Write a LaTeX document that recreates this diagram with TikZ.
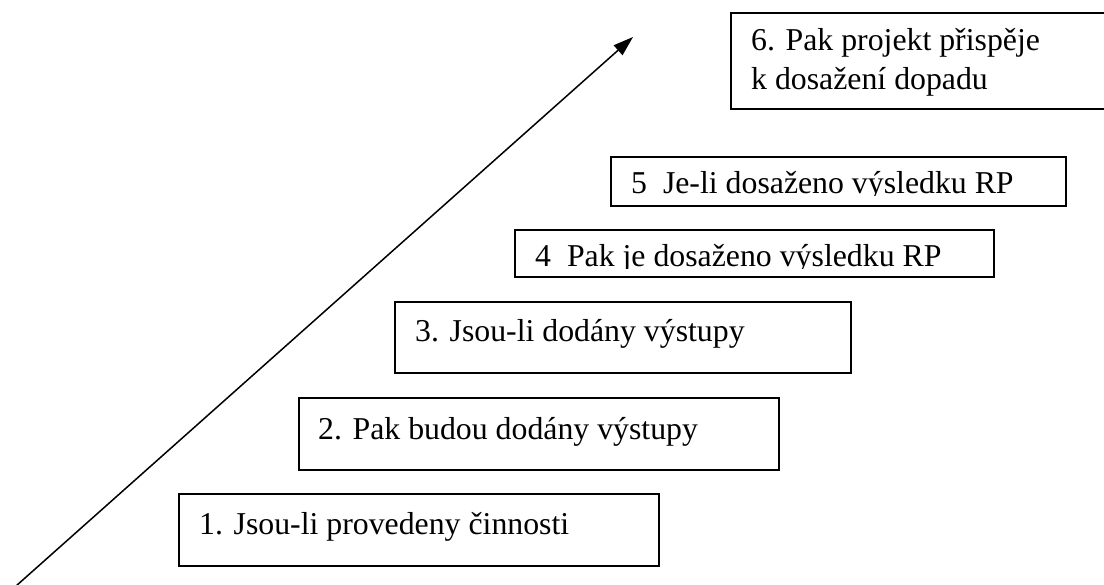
\documentclass[tikz,border=0pt]{standalone}
\usepackage{fontspec}
\setmainfont{Liberation Serif}
\usetikzlibrary{arrows.meta}

\begin{document}
\begin{tikzpicture}[x=1pt,y=-1pt]
  \tikzstyle{stepbox}=[draw,rectangle,line width=2pt,inner sep=0pt]
  \tikzstyle{steplabel}=[anchor=base west,inner sep=0pt,font=\fontsize{31.8}{39}\selectfont]
  \useasboundingbox (0,0) rectangle (1104,585);

  \node[stepbox,minimum width=480,minimum height=72] (S_1) at (419,530) {};
  \node[stepbox,minimum width=480,minimum height=72] (S_2) at (539,434) {};
  \node[stepbox,minimum width=456,minimum height=71] (S_3) at (623,337.5) {};
  \node[stepbox,minimum width=479,minimum height=47.5] (S_4) at (754.5,253.75) {};
  \node[stepbox,minimum width=455,minimum height=49] (S_5) at (838.5,181.5) {};
  \node[stepbox,minimum width=379,minimum height=96.5] (S_6) at (920.5,61.25) {};

  \node[steplabel] (L_1) at ([xshift=21pt,yshift=-41pt]S_1.north west) {1. Jsou-li provedeny činnosti};
  \node[steplabel] (L_2) at ([xshift=20pt,yshift=-42pt]S_2.north west) {2. Pak budou dodány výstupy};
  \node[steplabel] (L_3) at ([xshift=21pt,yshift=-41pt]S_3.north west) {3. Jsou-li dodány výstupy};
  % text of 4 and 5 is cut off at the baseline
  \begin{scope}
    \clip (S_4.north west) rectangle ([yshift=10pt]S_4.south east);
    \node[steplabel] (L_4) at ([xshift=21pt,yshift=-38pt]S_4.north west) {4\ \ Pak je dosaženo výsledku RP};
  \end{scope}
  \begin{scope}
    \clip (S_5.north west) rectangle ([yshift=11pt]S_5.south east);
    \node[steplabel] (L_5) at ([xshift=21pt,yshift=-38pt]S_5.north west) {5\ \ Je-li dosaženo výsledku RP};
  \end{scope}
  \node[steplabel] (L_6) at ([xshift=21pt,yshift=-39pt]S_6.north west) {6. Pak projekt přispěje};
  \node[steplabel] (L_6b) at ([yshift=-39pt]L_6.base west) {k dosažení dopadu};

  \coordinate (A_0) at (16,586);
  \coordinate (A_1) at (633,37);
  \draw[line width=1.5pt,-{Triangle[length=20pt,width=13pt]}] (A_0) -- (A_1);

\end{tikzpicture}
\end{document}
